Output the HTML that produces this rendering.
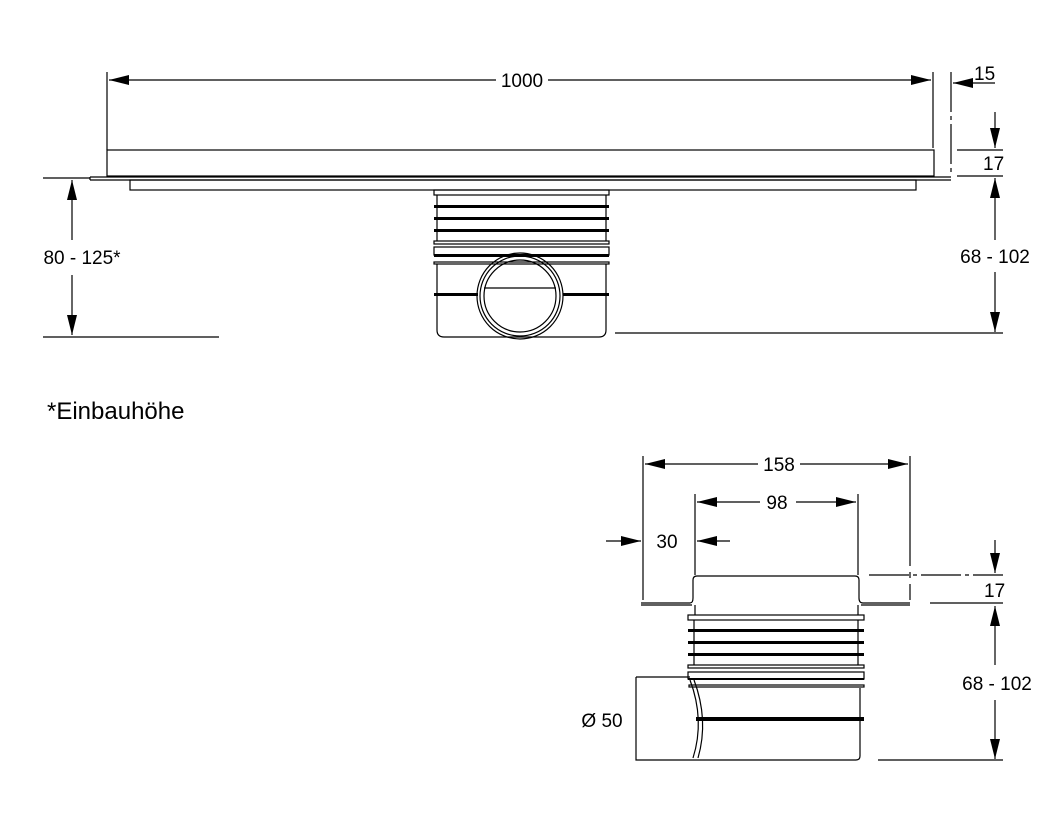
<!DOCTYPE html>
<html><head><style>html,body{margin:0;padding:0;background:#fff}svg{display:block}text{font-family:"Liberation Sans",Arial,sans-serif;font-size:19px;fill:#000}</style></head>
<body>
<svg width="1063" height="827" viewBox="0 0 1063 827" xmlns="http://www.w3.org/2000/svg">
<defs>
<marker id="a" viewBox="0 0 20 10" refX="20" refY="5" markerWidth="20" markerHeight="10" markerUnits="userSpaceOnUse" orient="auto"><path d="M0,0L20,5L0,10z" fill="#000"/></marker>
</defs>
<g stroke="#000" stroke-width="1.2" fill="none">
<line x1="107" y1="72" x2="107" y2="150"/>
<line x1="933" y1="72" x2="933" y2="148"/>
<line x1="951" y1="72" x2="951" y2="176" stroke-dasharray="40,4,4,4"/>
<line x1="496" y1="80" x2="109" y2="80" marker-end="url(#a)"/>
<line x1="548" y1="80" x2="931" y2="80" marker-end="url(#a)"/>
<line x1="995" y1="83" x2="953" y2="83" marker-end="url(#a)"/>
<line x1="995" y1="112" x2="995" y2="148" marker-end="url(#a)"/>
<line x1="957" y1="150" x2="1003" y2="150"/>
<line x1="957" y1="176" x2="1003" y2="176"/>
<line x1="995" y1="240" x2="995" y2="178" marker-end="url(#a)"/>
<line x1="995" y1="272" x2="995" y2="332" marker-end="url(#a)"/>
<line x1="615" y1="333" x2="1003" y2="333"/>
<line x1="43" y1="178" x2="90" y2="178"/>
<line x1="72" y1="240" x2="72" y2="180" marker-end="url(#a)"/>
<line x1="72" y1="275" x2="72" y2="335" marker-end="url(#a)"/>
<line x1="43" y1="337" x2="219" y2="337"/>
<rect x="107" y="150" width="827" height="26"/>
<path d="M90,177H951M90,180H951M90,177V180"/>
<rect x="130" y="180" width="786" height="10"/>
<rect x="434" y="190" width="175" height="5"/>
<line x1="437" y1="195" x2="437" y2="241"/><line x1="606" y1="195" x2="606" y2="241"/>
<rect x="434" y="241" width="175" height="3"/>
<rect x="434" y="247" width="175" height="8"/>
<rect x="434" y="262" width="175" height="2"/>
<path d="M437,264V330Q437,337 444,337H599Q606,337 606,330V264"/>
<circle cx="520" cy="296" r="43"/><circle cx="520" cy="296" r="40"/><circle cx="520" cy="296" r="36"/>
<line x1="484" y1="288" x2="556" y2="288"/>
<line x1="643" y1="456" x2="643" y2="600"/>
<line x1="910" y1="456" x2="910" y2="600" stroke-dasharray="110,6,6,6"/>
<line x1="695" y1="494" x2="695" y2="575"/>
<line x1="858" y1="494" x2="858" y2="575"/>
<line x1="758" y1="464" x2="645" y2="464" marker-end="url(#a)"/>
<line x1="800" y1="464" x2="908" y2="464" marker-end="url(#a)"/>
<line x1="760" y1="502" x2="697" y2="502" marker-end="url(#a)"/>
<line x1="796" y1="502" x2="856" y2="502" marker-end="url(#a)"/>
<line x1="606" y1="541" x2="641" y2="541" marker-end="url(#a)"/>
<line x1="730" y1="541" x2="697" y2="541" marker-end="url(#a)"/>
<line x1="995" y1="540" x2="995" y2="573" marker-end="url(#a)"/>
<line x1="869" y1="575" x2="1003" y2="575" stroke-dasharray="40,4,4,4"/>
<line x1="930" y1="603" x2="1003" y2="603"/>
<line x1="995" y1="665" x2="995" y2="606" marker-end="url(#a)"/>
<line x1="995" y1="700" x2="995" y2="759" marker-end="url(#a)"/>
<line x1="878" y1="760" x2="1003" y2="760"/>
<path d="M641,603H690Q693,603 693,598V580Q693,576 697,576H855Q859,576 859,580V598Q859,603 863,603H910"/>
<path d="M641,605H692M861,605H910"/>
<line x1="695" y1="605" x2="695" y2="615"/><line x1="858" y1="605" x2="858" y2="615"/>
<rect x="688" y="615" width="176" height="5"/>
<line x1="694" y1="620" x2="694" y2="665"/><line x1="858" y1="620" x2="858" y2="665"/>
<rect x="688" y="665" width="176" height="3"/>
<rect x="688" y="672" width="176" height="7"/>
<rect x="689" y="685" width="175" height="2"/>
<path d="M860,688V756Q860,760 856,760H694"/>
<path d="M636,677H690M636,677V760H694"/>
<path d="M690,680Q705,720 693,758M694,680Q709,720 698,758"/>
</g>
<g fill="#000">
<rect x="434" y="205" width="175" height="3"/><rect x="434" y="217" width="175" height="3"/><rect x="434" y="229" width="175" height="3"/>
<rect x="434" y="254" width="175" height="3"/>
<rect x="434" y="293" width="44" height="3"/><rect x="563" y="293" width="46" height="3"/>
<rect x="688" y="629" width="176" height="3"/><rect x="688" y="641" width="176" height="3"/><rect x="688" y="653" width="176" height="3"/>
<rect x="688" y="678" width="176" height="2"/>
<rect x="696" y="717" width="168" height="4"/>
</g>
<text x="522" y="87" text-anchor="middle">1000</text>
<text x="974" y="80">15</text>
<text x="983" y="170">17</text>
<text x="995" y="263" text-anchor="middle">68 - 102</text>
<text x="82" y="264" text-anchor="middle">80 - 125*</text>
<text x="47" y="419" style="font-size:24px">*Einbauhöhe</text>
<text x="779" y="471" text-anchor="middle">158</text>
<text x="777" y="509" text-anchor="middle">98</text>
<text x="667" y="548" text-anchor="middle">30</text>
<text x="984" y="597">17</text>
<text x="997" y="690" text-anchor="middle">68 - 102</text>
<text x="602" y="727" text-anchor="middle">Ø 50</text>
</svg>
</body></html>
